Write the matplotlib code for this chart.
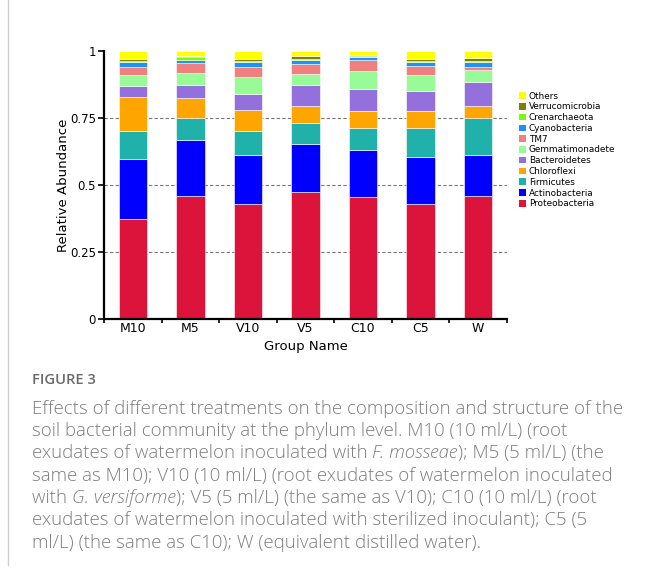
import matplotlib.pyplot as plt
from matplotlib.patches import Patch
from matplotlib.lines import Line2D

plt.rcParams.update({'font.family': 'DejaVu Sans'})

# Relative abundance per phylum (bottom to top of each stacked bar)
groups = ['M10', 'M5', 'V10', 'V5', 'C10', 'C5', 'W']
phyla = ['Proteobacteria', 'Actinobacteria', 'Firmicutes', 'Chloroflexi',
         'Bacteroidetes', 'Gemmatimonadete', 'TM7', 'Cyanobacteria',
         'Crenarchaeota', 'Verrucomicrobia', 'Others']
proteobacteria = [0.374, 0.458, 0.430, 0.473, 0.453, 0.429, 0.460]
actinobacteria = [0.221, 0.209, 0.180, 0.178, 0.177, 0.175, 0.153]
firmicutes = [0.106, 0.081, 0.091, 0.081, 0.082, 0.108, 0.137]
chloroflexi = [0.126, 0.076, 0.078, 0.063, 0.063, 0.064, 0.044]
bacteroidetes = [0.041, 0.047, 0.061, 0.077, 0.081, 0.074, 0.089]
gemmatimonadete = [0.040, 0.046, 0.062, 0.041, 0.068, 0.058, 0.046]
tm7 = [0.030, 0.036, 0.036, 0.036, 0.042, 0.035, 0.009]
cyanobacteria = [0.020, 0.0135, 0.021, 0.017, 0.012, 0.016, 0.020]
crenarchaeota = [0.004, 0.0085, 0.004, 0.002, 0.003, 0.003, 0.002]
verrucomicrobia = [0.006, 0.005, 0.007, 0.012, 0.003, 0.007, 0.013]
others = [0.0325, 0.020, 0.030, 0.020, 0.016, 0.031, 0.027]

series = [proteobacteria, actinobacteria, firmicutes, chloroflexi, bacteroidetes,
          gemmatimonadete, tm7, cyanobacteria, crenarchaeota, verrucomicrobia, others]
colors = ['#DC143C', '#0000FF', '#20B2AA', '#FFA500', '#9370DB', '#98FB98',
          '#F08080', '#1E90FF', '#7CFC00', '#808000', '#FFFF00']

fig = plt.figure(figsize=(6.48, 5.85), dpi=100)
ax = fig.add_axes([0.161, 0.4547, 0.621, 0.4586])

x = range(len(groups))
bottom = [0.0] * len(groups)
for vals, c in zip(series, colors):
    ax.bar(x, vals, width=0.5, bottom=bottom, color=c, edgecolor='#ffffff',
           linewidth=0.4, zorder=2)
    bottom = [b + v for b, v in zip(bottom, vals)]

ax.set_xlim(-0.5, 6.5)
ax.set_ylim(0, 1)
for yv in [0.25, 0.5, 0.75]:
    ax.axhline(yv, color='#777777', linestyle=(0, (3, 2)), linewidth=0.8, zorder=1)

ax.set_yticks([0, 0.25, 0.5, 0.75, 1])
ax.set_yticklabels(['0', '0.25', '0.5', '0.75', '1'])
ax.set_xticks(list(x))
ax.set_xticklabels(groups)
ax.set_xticks([i + 0.5 for i in range(-1, 7)], minor=True)
ax.tick_params(axis='x', which='major', length=0, labelsize=9, pad=2)
ax.tick_params(axis='x', which='minor', length=3, width=1.2, direction='out')
ax.tick_params(axis='y', length=4, width=1.2, labelsize=8.5, pad=2)

for side in ['top', 'right']:
    ax.spines[side].set_visible(False)
for side in ['left', 'bottom']:
    ax.spines[side].set_linewidth(1.6)

ax.set_ylabel('Relative Abundance', fontsize=9.5, labelpad=0)
ax.set_xlabel('Group Name', fontsize=9.5, labelpad=4)

handles = [Patch(facecolor=c, edgecolor='none') for c in colors][::-1]
fig.legend(handles, phyla[::-1], loc='upper left', bbox_to_anchor=(0.794, 0.851),
           frameon=False, fontsize=6.4, handlelength=0.75, handleheight=0.75,
           handletextpad=0.35, labelspacing=0.2, borderpad=0)

# left border of the figure card
fig.add_artist(Line2D([0.0125, 0.0125], [1.0, 0.034], color='#cfcfcf', linewidth=1))

# caption
cap_color = '#7d7d7d'
fig.text(0.049, 1 - 380 / 585, 'FIGURE 3', fontsize=10.6, fontweight='semibold',
         color='#6a6a6a', family='Open Sans', va='center')

lines = [
    [('Effects of different treatments on the composition and structure of the', 'normal')],
    [('soil bacterial community at the phylum level. M10 (10 ml/L) (root', 'normal')],
    [('exudates of watermelon inoculated with ', 'normal'), ('F. mosseae', 'italic'),
     ('); M5 (5 ml/L) (the', 'normal')],
    [('same as M10); V10 (10 ml/L) (root exudates of watermelon inoculated', 'normal')],
    [('with ', 'normal'), ('G. versiforme', 'italic'),
     ('); V5 (5 ml/L) (the same as V10); C10 (10 ml/L) (root', 'normal')],
    [('exudates of watermelon inoculated with sterilized inoculant); C5 (5', 'normal')],
    [('ml/L) (the same as C10); W (equivalent distilled water).', 'normal')],
]
line_y = [409, 431, 453, 476, 498, 520, 543]
for parts, ypx in zip(lines, line_y):
    prev = None
    for txt, style in parts:
        kw = dict(fontsize=13.4, color=cap_color, family='Open Sans', style=style,
                  fontweight='light')
        if prev is None:
            prev = fig.text(0.049, 1 - ypx / 585, txt, va='center', **kw)
        else:
            prev = fig.add_artist(plt.Annotation(txt, xy=(1, 0), xycoords=prev,
                                                 va='bottom', ha='left', **kw))

fig.savefig('out.png', dpi=100, facecolor='white')
